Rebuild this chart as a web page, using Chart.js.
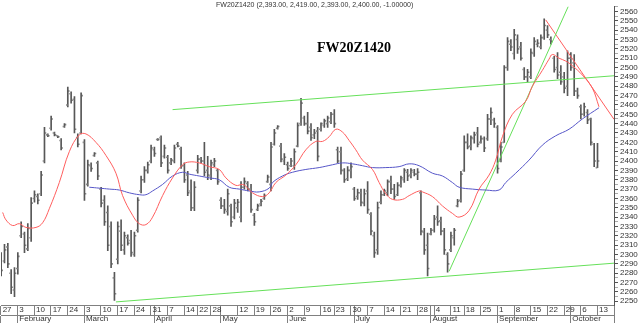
<!DOCTYPE html>
<html><head><meta charset="utf-8">
<script src="https://cdn.jsdelivr.net/npm/chart.js@4/dist/chart.umd.min.js"></script>
<style>
html,body{margin:0;padding:0;background:#fff;}
#wrap{position:relative;width:640px;height:323px;overflow:hidden;}
#sub{position:absolute;left:216px;top:0px;font:7px 'Liberation Sans',Arial,sans-serif;color:#333;white-space:nowrap;line-height:10px;}
#ttl{position:absolute;left:0;width:708px;top:40px;text-align:center;font:bold 14px 'Liberation Serif','Times New Roman',serif;color:#000;line-height:16px;}
</style></head>
<body><div id="wrap"><canvas id="c" width="640" height="323"></canvas>
<div id="sub">FW20Z1420 (2,393.00, 2,419.00, 2,393.00, 2,400.00, -1.00000)</div>
<div id="ttl">FW20Z1420</div></div>
<script>
const YEAR = 2014;
const monthNames = ["January","February","March","April","May","June","July","August","September","October","November","December"];
const sessions = [
"01-27","01-28","01-29","01-30","01-31",
"02-03","02-04","02-05","02-06","02-07","02-10","02-11","02-12","02-13","02-14","02-17","02-18","02-19","02-20","02-21","02-24","02-25","02-26","02-27","02-28",
"03-03","03-04","03-05","03-06","03-07","03-10","03-11","03-12","03-13","03-14","03-17","03-18","03-19","03-20","03-21","03-24","03-25","03-26","03-27","03-28","03-31",
"04-01","04-02","04-03","04-04","04-07","04-08","04-09","04-10","04-11","04-14","04-15","04-16","04-17","04-22","04-23","04-24","04-25","04-28","04-29","04-30",
"05-05","05-06","05-07","05-08","05-09","05-12","05-13","05-14","05-15","05-16","05-19","05-20","05-21","05-22","05-23","05-26","05-27","05-28","05-29","05-30",
"06-02","06-03","06-04","06-05","06-06","06-09","06-10","06-11","06-12","06-13","06-16","06-17","06-18","06-20","06-23","06-24","06-25","06-26","06-27","06-30",
"07-01","07-02","07-03","07-04","07-07","07-08","07-09","07-10","07-11","07-14","07-15","07-16","07-17","07-18","07-21","07-22","07-23","07-24","07-25","07-28","07-29","07-30","07-31",
"08-01","08-04","08-05","08-06","08-07","08-08","08-11","08-12","08-13","08-14","08-18","08-19","08-20","08-21","08-22","08-25","08-26","08-27","08-28","08-29",
"09-01","09-02","09-03","09-04","09-05","09-08","09-09","09-10","09-11","09-12","09-15","09-16","09-17","09-18","09-19","09-22","09-23","09-24","09-25","09-26","09-29","09-30",
"10-01","10-02","10-03","10-06","10-07","10-08","10-09","10-10","10-13","10-14","10-15","10-16","10-17"];

const opens = [2295,2293,2308,2280,2262, 2285,2320,2322,2306,2318, 2360,2362,2365,2400,2428, 2435,2430,2427,2422,2437, 2460,2472,2466,2425,2430,
2420,2375,2395,2406,2398, 2370,2358,2345,2330,2275, 2295,2325,2305,2318,2315, 2300,2326,2368,2380,2390, 2400,
2412,2423,2425,2405, 2404,2398,2400,2418,2413, 2395,2385,2368,2350, 2390,2402,2400,2390, 2384,2396,2390,
2358,2352,2346,2352,2340, 2350,2340,2372,2376,2370, 2342,2348,2354,2360,2378, 2375,2418,2435,2416,2400,
2396,2395,2395,2416,2440, 2446,2440,2436,2428,2432, 2434,2438,2440,2442, 2450,2412,2410,2390,2381, 2390,
2370,2362,2366,2355, 2368,2343,2320,2305,2356, 2364,2366,2378,2370,2364, 2374,2380,2388,2385,2388, 2386,2366,2324,2310,
2322, 2326,2340,2336,2325,2300, 2305,2318,2352,2358, 2390,2420,2416,2424,2430, 2420,2424,2424,2445,2444,
2436,2400,2420,2500,2525, 2515,2530,2522,2498,2490, 2490,2515,2525,2522,2532, 2540,2530,2510,2500,2495, 2490,2480,
2510,2505,2475, 2458,2450,2452,2445,2418, 2393];
const highs = [2302,2311,2312,2284,2286, 2302,2335,2324,2333,2361, 2368,2365,2389,2436,2429, 2448,2431,2427,2424,2440, 2479,2474,2469,2429,2473,
2423,2401,2398,2409,2400, 2372,2363,2352,2335,2281, 2335,2337,2324,2321,2326, 2324,2361,2384,2394,2399, 2417,
2415,2424,2427,2417, 2406,2403,2417,2420,2415, 2398,2389,2380,2378, 2406,2404,2420,2405, 2401,2403,2391,
2361,2359,2370,2354,2359, 2359,2378,2382,2378,2375, 2344,2354,2359,2365,2385, 2420,2434,2438,2419,2408,
2399,2403,2413,2441,2467, 2448,2452,2440,2434,2436, 2441,2445,2448,2452, 2455,2415,2415,2392,2394, 2398,
2372,2370,2370,2370, 2378,2345,2324,2356,2368, 2370,2380,2384,2375,2377, 2384,2392,2391,2392,2391, 2392,2368,2328,2323,
2328, 2342,2352,2340,2328,2302, 2324,2328,2359,2389, 2427,2429,2427,2431,2436, 2427,2426,2450,2457,2446,
2438,2420,2502,2532,2530, 2541,2535,2527,2500,2498, 2520,2532,2530,2535,2552, 2545,2533,2512,2516,2502, 2495,2518,
2516,2514,2478, 2460,2462,2455,2446,2419, 2419];
const lows = [2277,2291,2286,2258,2255, 2279,2318,2302,2304,2314, 2356,2354,2363,2398,2426, 2433,2427,2425,2412,2436, 2458,2462,2430,2415,2429,
2358,2373,2389,2405,2380, 2351,2331,2304,2286,2251, 2290,2304,2300,2310,2298, 2298,2324,2366,2377,2387, 2398,
2405,2422,2394,2403, 2387,2396,2398,2415,2392, 2377,2363,2347,2347, 2387,2398,2384,2380, 2380,2394,2375,
2349,2344,2342,2330,2338, 2345,2335,2370,2368,2345, 2331,2347,2352,2359,2377, 2368,2417,2434,2399,2396,
2390,2394,2391,2415,2438, 2438,2429,2422,2424,2400, 2432,2436,2436,2440, 2436,2398,2386,2377,2379, 2382,
2358,2359,2352,2352, 2344,2321,2297,2300,2354, 2363,2363,2365,2359,2363, 2372,2377,2379,2382,2384, 2380,2321,2300,2277,
2321, 2324,2331,2321,2300,2281, 2303,2310,2351,2356, 2389,2413,2412,2419,2415, 2419,2410,2422,2439,2436,
2387,2399,2420,2497,2518, 2509,2515,2508,2487,2485, 2488,2512,2522,2520,2530, 2532,2525,2495,2488,2482, 2473,2470,
2497,2470,2467, 2445,2448,2440,2417,2394, 2393];
const closes = [2283,2305,2290,2265,2280, 2298,2330,2310,2328,2355, 2364,2358,2385,2430,2427, 2445,2428,2426,2414,2439, 2475,2465,2434,2418,2470,
2365,2396,2392,2408,2384, 2355,2335,2310,2290,2258, 2330,2310,2320,2312,2302, 2320,2358,2380,2390,2396, 2414,
2408,2423,2398,2414, 2390,2401,2414,2416,2395, 2380,2366,2350,2372, 2402,2400,2388,2385, 2398,2400,2378,
2352,2348,2365,2335,2355, 2356,2372,2378,2370,2348, 2335,2352,2357,2363,2383, 2415,2430,2437,2402,2404,
2392,2400,2410,2438,2462, 2440,2432,2425,2430,2405, 2440,2443,2446,2450, 2440,2400,2390,2380,2390, 2394,
2360,2366,2356,2365, 2348,2325,2302,2350,2364, 2368,2378,2370,2362,2374, 2382,2390,2384,2390,2386, 2388,2325,2305,2285,
2326, 2338,2335,2325,2305,2290, 2320,2326,2357,2386, 2420,2415,2425,2428,2418, 2424,2414,2445,2452,2440,
2392,2415,2500,2528,2522, 2535,2520,2510,2490,2495, 2516,2528,2526,2532,2545, 2535,2528,2498,2492,2485, 2478,2510,
2500,2475,2470, 2450,2458,2444,2420,2400, 2400];

const redMA = [["01-27",2345],["01-28",2337],["01-30",2331],["02-03",2333],["02-05",2329],["02-10",2329],["02-12",2334],["02-14",2349],["02-19",2377],["02-24",2410],["02-27",2428],["03-03",2429],["03-06",2420],["03-11",2406],["03-14",2387],["03-18",2363],["03-21",2342],["03-25",2333],["03-27",2332],["03-31",2340],["04-03",2363],["04-08",2382],["04-11",2396],["04-15",2399],["04-22",2398],["04-25",2394],["04-30",2391],["05-06",2382],["05-09",2374],["05-13",2375],["05-14",2373],["05-16",2366],["05-21",2362],["05-23",2366],["05-27",2377],["05-30",2385],["06-04",2396],["06-09",2412],["06-12",2421],["06-16",2421],["06-18",2426],["06-23",2434],["06-25",2431],["06-27",2422],["07-01",2412],["07-03",2401],["07-08",2391],["07-10",2377],["07-14",2365],["07-16",2359],["07-21",2359],["07-23",2363],["07-28",2368],["07-29",2367],["08-01",2362],["08-06",2352],["08-11",2344],["08-13",2340],["08-19",2347],["08-22",2370],["08-27",2385],["08-29",2401],["09-02",2426],["09-05",2450],["09-11",2464],["09-15",2480],["09-18",2497],["09-22",2509],["09-23",2514],["09-25",2510],["09-29",2507],["10-01",2502],["10-06",2492],["10-09",2478],["10-13",2458]];
const blueMA = [["03-04",2372],["03-07",2371],["03-12",2370],["03-17",2369],["03-20",2366],["03-25",2364],["03-27",2364],["03-31",2368],["04-03",2375],["04-08",2384],["04-11",2388],["04-15",2386],["04-22",2384],["04-25",2382],["04-30",2380],["05-07",2372],["05-12",2370],["05-15",2368],["05-20",2367],["05-23",2371],["05-26",2377],["05-29",2384],["06-03",2388],["06-09",2391],["06-13",2393],["06-20",2396],["06-25",2398],["06-30",2397],["07-03",2395],["07-08",2393],["07-14",2393],["07-18",2394],["07-23",2397],["07-28",2395],["08-01",2387],["08-06",2384],["08-11",2377],["08-13",2372],["08-20",2370],["08-26",2369],["09-01",2369],["09-03",2377],["09-08",2387],["09-12",2401],["09-18",2417],["09-24",2427],["09-30",2434],["10-06",2445],["10-13",2457]];

const upperChannel = [["04-08",2455],["10-13",2490]];
const lowerChannel = [["03-14",2249.3],["10-13",2289.5]];
const steepSupport = [["08-08",2282],["09-16",2488]];
const downTrend = [["09-19",2551],["10-13",2468]];

const yMin = 2246, yMax = 2565, yStep = 5, yLabelStep = 10;

// ---- derived helpers ----
const n = sessions.length;
function toDate(s){ return new Date(Date.UTC(YEAR, +s.slice(0,2)-1, +s.slice(3,5))); }
const weekLabelIdx = new Set(), monthStartIdx = new Set();
let lastLabel = -99;
sessions.forEach((s,i)=>{
  const d = toDate(s), p = i ? toDate(sessions[i-1]) : null;
  const newWeek = !p || d.getUTCDay() <= p.getUTCDay() || (d - p) >= 7*86400000;
  if (newWeek && i - lastLabel >= 4) { weekLabelIdx.add(i); lastLabel = i; }
  if (p && d.getUTCMonth() !== p.getUTCMonth()) monthStartIdx.add(i);
});
function trend(pair){
  const i0 = sessions.indexOf(pair[0][0]), i1 = sessions.indexOf(pair[1][0]);
  const slope = (pair[1][1]-pair[0][1])/(i1-i0);
  const xEnd = n - 0.5;
  return [{x:i0,y:pair[0][1]},{x:xEnd,y:pair[0][1]+slope*(xEnd-i0)}];
}
const maPts = arr => arr.map(([d,v])=>({x:d,y:v}));

Chart.defaults.font.family = "'Liberation Sans', Arial, sans-serif";
Chart.defaults.font.size = 8;
Chart.defaults.color = '#333';

const boxCol = '#808080';
const barCol = '#575757', tickCol = '#8a8a8a';
const GREEN = '#66e05a', RED = '#ff5e5e', BLUE = '#5656c8';
const lineDs = (data, color, axis) => ({type:'line', data, borderColor:color, borderWidth:1, pointRadius:0, fill:false, tension: axis==='x'?0.4:0, xAxisID:axis, yAxisID:'y', order:0});

new Chart(document.getElementById('c'), {
  type:'bar',
  data:{
    labels:sessions,
    datasets:[
      lineDs(maPts(redMA), RED, 'x'),
      lineDs(maPts(blueMA), BLUE, 'x'),
      lineDs(trend(upperChannel), GREEN, 'xt'),
      lineDs(trend(lowerChannel), GREEN, 'xt'),
      lineDs(trend(steepSupport), GREEN, 'xt'),
      lineDs(trend(downTrend), RED, 'xt'),
      {type:'bar', data:opens.map(o=>[o-0.5,o+0.5]), backgroundColor:tickCol, barThickness:1, borderWidth:0, xAxisID:'x', yAxisID:'y', order:1},
      {type:'bar', data:lows.map((l,i)=>[l,highs[i]]), backgroundColor:barCol, barThickness:1, borderWidth:0, xAxisID:'x', yAxisID:'y', order:1},
      {type:'bar', data:closes.map(c=>[c-0.5,c+0.5]), backgroundColor:tickCol, barThickness:1, borderWidth:0, xAxisID:'x', yAxisID:'y', order:1}
    ]
  },
  options:{
    responsive:false, animation:false, devicePixelRatio:1,
    layout:{padding:{left:1,right:0,top:0,bottom:0}},
    plugins:{legend:{display:false}, tooltip:{enabled:false}},
    scales:{
      x:{type:'category', position:'bottom', offset:true, weight:0,
        grid:{offset:true, drawOnChartArea:false, drawTicks:true, tickLength:10, lineWidth:1,
          color: c => (c.index===undefined || c.index===0 || weekLabelIdx.has(c.index) || monthStartIdx.has(c.index)) ? boxCol : 'rgba(0,0,0,0)'},
        border:{display:true, color:boxCol},
        ticks:{autoSkip:false, maxRotation:0, minRotation:0, align:'start', padding:-9.8, color:'#333',
          callback:(v,i)=> weekLabelIdx.has(i) ? String(+sessions[i].slice(3)) : ''},
        afterFit:s=>{s.height=10;}},
      xm:{type:'category', position:'bottom', offset:true, weight:1,
        grid:{offset:true, drawOnChartArea:false, drawTicks:true, tickLength:8, lineWidth:1,
          color: c => (c.index===undefined || c.index===0 || monthStartIdx.has(c.index)) ? boxCol : 'rgba(0,0,0,0)'},
        border:{display:true, color:boxCol},
        ticks:{autoSkip:false, maxRotation:0, minRotation:0, align:'start', padding:-8.8, color:'#333',
          callback:(v,i)=> monthStartIdx.has(i) ? monthNames[+sessions[i].slice(0,2)-1] : ''},
        afterFit:s=>{s.height=8;}},
      xt:{type:'linear', position:'bottom', weight:2, display:true, offset:false, min:-0.5, max:n-0.5,
        grid:{display:false, drawTicks:false, offset:false}, border:{display:false}, ticks:{display:false},
        afterFit:s=>{s.height=0;}},
      y:{type:'linear', position:'right', min:yMin, max:yMax,
        grid:{drawOnChartArea:false, tickLength:4, color: c => (c.tick && c.tick.value % yLabelStep === 0) ? '#555' : '#aaa'},
        border:{display:true, color:'#555'},
        ticks:{stepSize:yStep, includeBounds:false, autoSkip:false, padding:2, color:'#333',
          callback:v => v % yLabelStep === 0 ? String(v) : ''},
        afterFit:s=>{s.width=26;}}
    }
  }
});
</script></body></html>
